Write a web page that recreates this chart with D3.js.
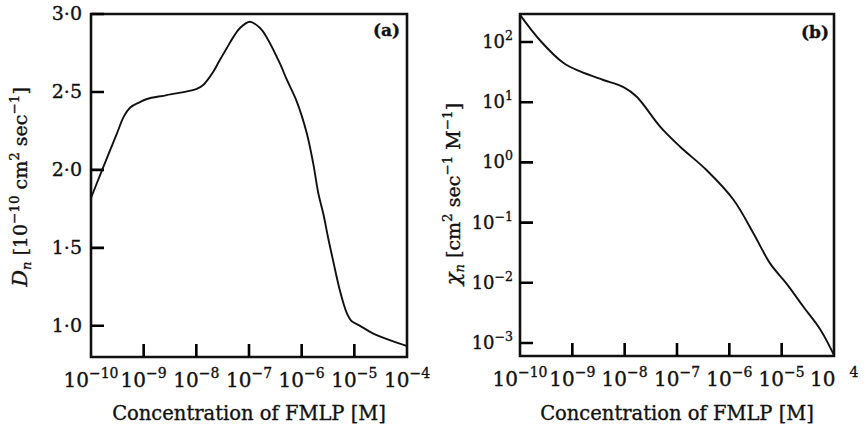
<!DOCTYPE html>
<html><head><meta charset="utf-8">
<script src="https://cdn.jsdelivr.net/npm/d3@7"></script>
<style>
body{margin:0;background:#fff;}
text{font-family:"DejaVu Serif",serif;fill:#111;stroke:#111;stroke-width:0.35px;}
</style></head>
<body><svg id="c" width="865" height="428"></svg>
<script>
// ---- data ----
const concA = [1.0e-10,1.5e-10,2.33e-10,3.16e-10,4.17e-10,5.56e-10,8.5e-10,1.15e-9,2.75e-9,1.02e-8,1.35e-8,1.57e-8,2.1e-8,2.8e-8,3.77e-8,5.0e-8,6.75e-8,1.04e-7,1.62e-7,2.17e-7,3.9e-7,5.2e-7,8.05e-7,1.24e-6,1.66e-6,2.07e-6,2.57e-6,3.2e-6,4.0e-6,5.33e-6,7.16e-6,8.9e-6,1.28e-5,2.29e-5,5.5e-5,1.0e-4];
const Dn    = [1.82,1.97,2.13,2.24,2.34,2.40,2.435,2.455,2.48,2.52,2.545,2.57,2.63,2.705,2.78,2.85,2.91,2.95,2.91,2.85,2.68,2.58,2.44,2.24,2.04,1.85,1.72,1.56,1.41,1.225,1.083,1.03,1.0,0.95,0.90,0.87];
const concB = [1.0e-10,2.4e-10,6.8e-10,1.41e-9,3.9e-9,9.5e-9,1.7e-8,4.8e-8,1.15e-7,3.7e-7,1.2e-6,2.9e-6,6.0e-6,1.26e-5,2.6e-5,5.5e-5,1.0e-4];
const chiN  = [282,107,44.7,32.4,23.4,17.8,12.3,3.9,1.82,0.74,0.24,0.066,0.021,0.0095,0.0040,0.00166,0.00063];
const xTickExp = [-10,-9,-8,-7,-6,-5,-4];
const dTicks = [1.0,1.5,2.0,2.5,3.0];
const chiTickExp = [2,1,0,-1,-2,-3];
const xTitle = "Concentration of FMLP [M]";

const svg = d3.select("#c");
const MINUS = "\u2212";
const TLEN = 13;
const tickSegs = [];

function supLabel(sel, base, sup, supSize, dy){
  sel.text(null);
  sel.append("tspan").text(base);
  sel.append("tspan").attr("dy", -dy).attr("font-size", supSize).text(sup);
}

function panel(o){
  const g = svg.append("g");
  const x = d3.scaleLog().domain([1e-10,1e-4]).range([o.x0,o.x1]);
  const y = o.yScale;
  const xt = xTickExp.map(e=>Math.pow(10,e));
  g.append("path")
    .attr("d",`M${o.x0},${o.y0}H${o.x1}V${o.y1}H${o.x0}Z`)
    .attr("fill","none").attr("stroke","#111").attr("stroke-width",2.6);
  xt.slice(1,-1).forEach(d=>{ tickSegs.push([x(d),o.y1,x(d),o.y1-TLEN]); });
  o.yTicks.forEach(d=>{ tickSegs.push([o.x0,y(d),o.x0+TLEN,y(d)]); });
  g.selectAll("text.xl").data(xTickExp).join("text").attr("class","xl")
    .attr("x",e=>x(Math.pow(10,e))).attr("y",o.y1+30).attr("text-anchor","middle").attr("font-size",20)
    .each(function(e){
      const t = d3.select(this);
      if(o.brokenLast && e===-4){
        t.append("tspan").text("10");
        t.append("tspan").attr("dy",-9).attr("dx",14).attr("font-size",14).text("4");
        t.attr("text-anchor","start").attr("x",x(Math.pow(10,e))-24);
      } else {
        supLabel(t,"10",MINUS+Math.abs(e),14,9);
      }
    });
  g.selectAll("text.yl").data(o.yTicks).join("text").attr("class","yl")
    .attr("x",o.x0-o.yPad).attr("y",d=>y(d)+6).attr("text-anchor","end").attr("font-size",o.yFont)
    .each(function(d,i){ o.yFmt(d3.select(this), d, i); });
  const clipId = "clip"+o.id;
  svg.append("defs").append("clipPath").attr("id",clipId).append("rect")
    .attr("x",o.x0).attr("y",o.y0).attr("width",o.x1-o.x0).attr("height",o.y1-o.y0);
  const line = d3.line().x(d=>x(d[0])).y(d=>y(d[1])).curve(d3.curveCatmullRom.alpha(0.5));
  g.append("path").datum(d3.zip(o.xs,o.ys)).attr("d",line).attr("clip-path",`url(#${clipId})`)
    .attr("fill","none").attr("stroke","#111").attr("stroke-width",1.9);
  g.append("text").attr("x",(o.x0+o.x1)/2).attr("y",420).attr("text-anchor","middle")
    .attr("font-size",19.5).text(xTitle);
  g.append("text").attr("x",o.tagX).attr("y",o.tagY).attr("text-anchor","end")
    .attr("font-size",17).attr("font-weight","bold").text(o.tag);
}

panel({
  id:"a", x0:91, x1:407, y0:14, y1:357,
  yScale: d3.scaleLinear().domain([0.8,3.0]).range([357,14]),
  yTicks: dTicks, yPad: 9, yFont: 19,
  yFmt: (t,d)=>t.text(d.toFixed(1).replace(".","\u00B7")),
  xs: concA, ys: Dn, tag:"(a)", tagX:400, tagY:36
});
panel({
  id:"b", x0:520, x1:834, y0:14, y1:356,
  yScale: d3.scaleLog().domain([6.08e-4,292]).range([356,14]),
  yTicks: chiTickExp.map(e=>Math.pow(10,e)), yPad: 7, yFont: 18,
  yFmt: (t,d,i)=>{ const e=chiTickExp[i]; supLabel(t,"10",(e<0?MINUS:"")+Math.abs(e),12.5,8); },
  xs: concB, ys: chiN, tag:"(b)", tagX:829, tagY:38, brokenLast:true
});

function yTitle(cx, cy, fs, parts){
  const t = svg.append("text").attr("transform",`translate(${cx},${cy}) rotate(-90)`)
    .attr("text-anchor","middle").attr("font-size",fs);
  parts.forEach(p=>{
    const s = t.append("tspan").text(p.t);
    if(p.f) s.attr("font-size",p.f);
    if(p.dy) s.attr("dy",p.dy);
    if(p.i) s.attr("font-style","italic");
  });
}
yTitle(27,187,19,[
  {t:"D",i:1,f:21},{t:"n",i:1,f:13,dy:4},{t:" [10",dy:-4},{t:MINUS+"10",f:13.5,dy:-8},
  {t:" cm",dy:8},{t:"2",f:13.5,dy:-8},{t:" sec",dy:8},{t:MINUS+"1",f:13.5,dy:-8},{t:"]",dy:8}
]);
yTitle(460,194,19,[
  {t:"\u03C7",i:1,f:21},{t:"n",i:1,f:13,dy:4},{t:" [cm",dy:-4},{t:"2",f:13.5,dy:-8},
  {t:" sec",dy:8},{t:MINUS+"1",f:13.5,dy:-8},{t:" M",dy:8},{t:MINUS+"1",f:13.5,dy:-8},{t:"]",dy:8}
]);

// inward tick marks (positions from the scales), on top
const tp = d3.path();
tickSegs.forEach(s=>{ tp.moveTo(s[0],s[1]); tp.lineTo(s[2],s[3]); });
svg.append("path").attr("d",tp.toString()).attr("fill","none")
  .attr("stroke","#000").attr("stroke-width",2.6);
</script></body></html>
